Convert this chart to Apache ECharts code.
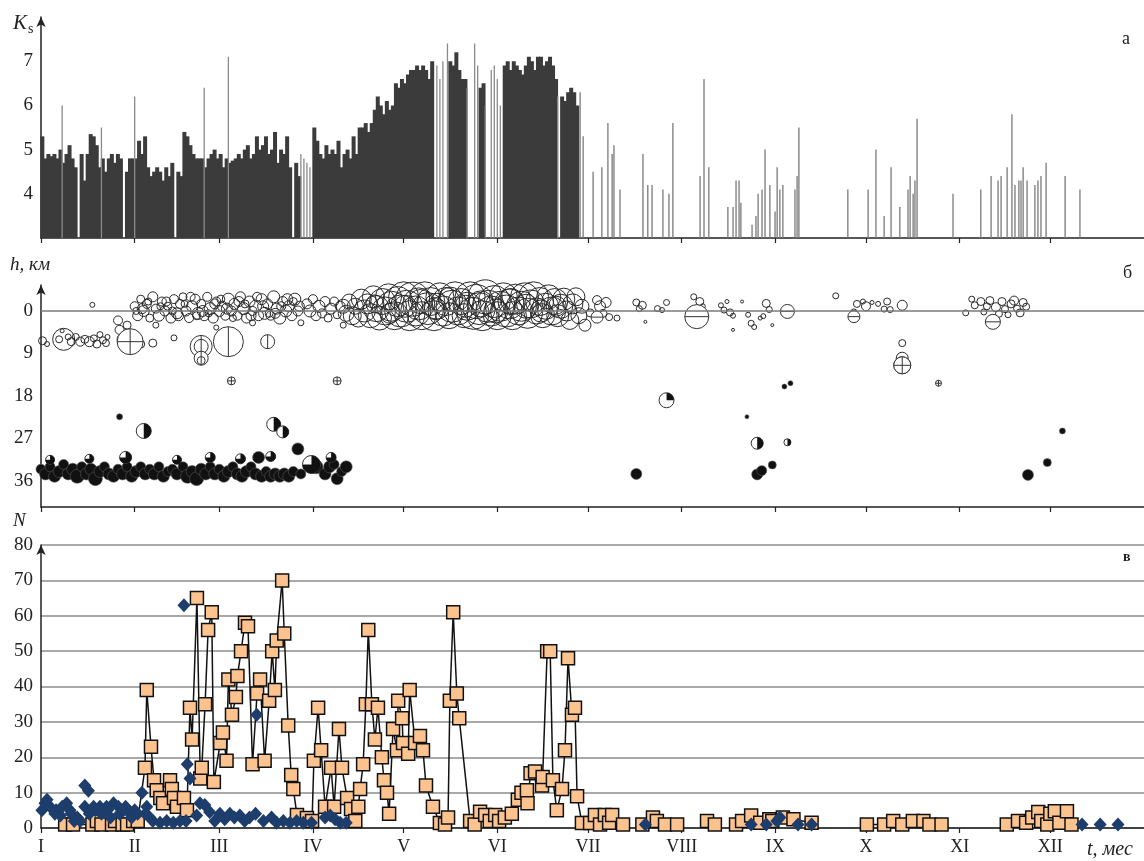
<!DOCTYPE html>
<html>
<head>
<meta charset="utf-8">
<script src="https://cdn.jsdelivr.net/npm/echarts@6/dist/echarts.min.js"></script>
<style>
  html, body { margin: 0; padding: 0; background: #fff; }
  #chart { width: 1144px; height: 861px; }
</style>
</head>
<body>
<div id="chart"></div>
<script>
// months: day of year where each month starts
var monthStarts = [0, 31, 59, 90, 120, 151, 181, 212, 243, 273, 304, 334];
var monthLabels = ['I', 'II', 'III', 'IV', 'V', 'VI', 'VII', 'VIII', 'IX', 'X', 'XI', 'XII'];

// panel a: Ks, dense part (day, Ks)
var ksDense = [[0,5.3],[1,4.8],[2,4.9],[3,4.85],[4,4.9],[5,4.8],[6,5.0],[7,4.7],[8,4.9],[9,5.1],[10,4.8],[11,4.6],[13,4.9],[14,4.3],[15,4.9],[16,5.35],[17,5.3],[18,5.1],[19,4.6],[20,4.8],[21,4.5],[22,4.8],[23,4.9],[24,4.7],[25,4.9],[26,4.8],[28,4.5],[29,4.8],[30,4.8],[31,4.8],[32,5.2],[33,4.9],[34,5.3],[35,4.6],[36,4.4],[37,4.5],[38,4.6],[39,4.5],[40,4.3],[41,4.6],[42,4.4],[43,4.7],[45,4.5],[46,4.4],[47,5.4],[48,5.3],[49,5.1],[50,4.9],[51,4.8],[52,4.8],[53,4.8],[54,4.6],[55,4.8],[56,4.9],[57,5.0],[58,4.8],[59,4.9],[60,4.6],[61,4.8],[62,4.7],[63,4.75],[64,4.8],[65,4.9],[66,4.8],[67,5.0],[68,5.1],[69,4.8],[70,4.9],[71,5.3],[72,5.0],[73,5.1],[74,5.3],[75,4.9],[76,5.0],[77,5.4],[78,4.7],[79,5.0],[80,4.9],[81,5.3],[82,4.6],[84,4.7],[85,4.4],[90,5.5],[91,5.2],[92,4.9],[93,4.8],[94,5.1],[95,4.9],[96,5.0],[97,4.9],[98,5.2],[99,4.6],[100,4.9],[101,5.0],[102,4.8],[103,5.3],[104,4.9],[105,5.5],[106,5.5],[107,5.6],[108,5.4],[109,5.6],[110,5.9],[111,6.2],[112,6.0],[113,5.8],[114,6.1],[115,5.9],[116,6.0],[117,6.5],[118,6.4],[119,6.6],[120,6.5],[121,6.7],[122,6.8],[123,6.8],[124,6.9],[125,6.8],[126,6.9],[127,6.8],[128,6.6],[129,7.0],[135,7.0],[136,6.9],[137,7.2],[138,6.8],[139,6.6],[140,6.6],[145,6.4],[146,6.5],[153,6.9],[154,7.0],[155,6.8],[156,7.0],[157,6.9],[158,6.8],[159,6.7],[160,6.9],[161,7.1],[162,7.0],[163,6.8],[164,7.1],[165,7.1],[166,6.9],[167,7.0],[168,7.1],[169,6.9],[170,6.6],[172,6.2],[173,6.1],[174,6.3],[175,6.4],[176,6.3],[177,6.0]];
// single strong events drawn as thin lines
var ksSpikes = [[7,6.0],[20,5.5],[31,6.2],[54,6.4],[62,7.1],[86,4.9],[87,4.8],[88,4.7],[89,4.6],[131,6.9],[132,6.6],[133,7.0],[134.5,7.4],[141,6.4],[143.5,7.4],[144.5,6.9],[147,6.0],[149,6.8],[150,6.9],[151,6.6],[152,6.0],[171,6.2]];
var ksSparse = [[178.4,6.3],[179.4,5.3],[182.7,4.5],[185.6,4.6],[187.6,5.6],[189,4.9],[189.6,5.1],[191.6,4.1],[199.2,4.9],[200.8,4.2],[202.2,4.2],[205.8,4.1],[207.8,4.0],[209.1,5.6],[218.1,4.4],[219.4,6.6],[221,4.6],[227.3,3.7],[229,3.7],[230,4.3],[231,4.3],[231.6,3.8],[235.3,3.3],[236.6,3.5],[237.3,4.0],[238.6,4.1],[239.6,5.0],[241.2,4.2],[242.9,3.6],[243.6,4.6],[244.5,4.1],[245.5,4.2],[249.5,4.1],[250.2,4.4],[250.8,5.5],[267,4.1],[273.7,4.1],[276.3,5.0],[279,3.5],[281.3,4.6],[284.2,3.7],[286.9,4.1],[287.6,4.4],[288.6,4.0],[289.2,4.3],[289.9,5.7],[301.8,4.0],[311,4.1],[314.4,4.4],[316.7,4.3],[317.7,4.4],[319.7,4.6],[321.3,5.8],[322.3,4.2],[323.6,4.3],[324.3,4.3],[325,4.6],[326.3,4.3],[328.9,4.2],[329.9,4.3],[330.9,4.4],[332.6,4.7],[338.9,4.4],[343.8,4.1]];

// panel b: hypocentres (day, depth km, diameter px)
var shallowQuakes = [[0.5,6.3,8],[2,7,5],[6,6,7],[7,4.2,4],[7.5,6,22],[9,5.5,6],[10,6.5,8],[11.5,5.5,7],[13,6.5,9],[14.5,6,8],[16,6.5,10],[17.5,5.8,7],[18.5,7,8],[19.5,5,6],[20.5,6.2,7],[21.5,6.8,7],[22,5.5,5],[17,-1.3,5],
  [25.5,2,9],[26,4,9],[27,6,11],[28,5,8],[28.5,3,8],[31,6.5,10],[33,7,8],[37,6.8,8],[44,5.7,6],
  [31,-1,9],[32,1,10],[33,-2.5,8],[34,0,11],[35,-1.5,9],[36,1.5,8],[37,-3,10],[38,-0.5,9],[39,1,11],[40,-2,9],[41,0,10],[42,-1,8],[43,1.5,10],[44,-2.5,9],[45,0.5,11],[46,-1.5,9],[47,-3,8],[48,0,10],[49,1.5,9],[50,-1,11],[51,-2.5,10],[52,0.5,12],[53,-1.5,9],[54,1,10],[55,-3,9],[56,-0.5,12],[57,1.5,10],[58,-2,9],[59,0,11],[60,-1,10],[61,1,9],[62,-2.5,12],[63,0,10],[64,-1.5,11],[65,1,9],[66,-3,10],[67,-0.5,12],[68,1.5,10],[69,-2,11],[70,0,9],[71,-1,12],[72,1,10],[73,-2.5,11],[74,0.5,12],[75,-1.5,10],[76,1,9],[77,-3,12],[78,-0.5,11],[79,1.5,12],[80,-2,10],[81,0,12],[82,-1,11],[83,1,10],[84,-2.5,12],[85,0,10],[86,2.5,6],
  [31.5,0,7],[35.5,-2,7],[39.5,-1,7],[43.5,0,8],[47.5,-1.5,7],[51.5,1,8],[55.5,0.5,7],[59.5,-2.5,8],[63.5,1.5,7],[67.5,-1.5,8],[71.5,-3,9],[75.5,0.5,8],[79.5,-1,9],[83.5,-2,8],[38,3,6],[58,3.5,5],[70,2.5,6],
  [33.5,-0.5,10],[41.5,-2,9],[45.5,1,10],[49.5,-3,9],[53.5,0,11],[57.5,-1.5,10],[61.5,-0.5,11],[65.5,-2,10],[69.5,1,10],[73.5,-1,11],[77.5,0.5,10],[81.5,-2.5,11],[85.5,-1,10],
  [88,-1.5,10],[89,0,12],[90,-2.5,9],[91,1,10],[92,-1,12],[93,0.5,9],[94,-2,10],[95,1.5,8],[96,-0.5,11],[97,-2,9],[98,0.8,8],[99,-1,10],[100,3,6],
  [100,-1,14],[101,0.5,16],[102,-2,15],[103,1,18],[104,-1,16],[105,1.5,18],[106,-2.5,20],[107,0,22],[108,-1.5,20],[109,1,24],[110,-3,22],[111,-0.5,26],[112,1.5,24],[113,-2,26],[114,0,28],[115,-3,26],[116,-1,30],[117,1,28],[118,-2,30],[119,0,32],[120,-3,30],[121,-1,32],[122,1,30],[123,-2.5,34],[124,0,30],[125,-1.5,32],[126,1,28],[127,-3,30],[128,-0.5,32],[129,-2,28],[130,1,30],[131,-1,26],[132,-3,28],[133,0,30],[134,-2,28],[135,1,26],[136,-1,32],[137,-3,30],[138,0,28],[139,-2,26],[140,1,24],[141,-1,28],[142,-3,30],[143,0.5,32],[144,-2,34],[145,-0.5,32],[146,1,30],[147,-3,34],[148,-1,32],[149,0,30],[150,-2,32],[151,1,28],[152,-1,30],[153,-3,28],[154,0,32],[155,-1.5,30],[156,1,28],[157,-2.5,30],[158,0,28],[159,-1,30],[160,-3,28],[161,0.5,30],[162,-1.5,28],[163,-3,30],[164,0,26],[165,-2,28],[166,1,24],[167,-1,26],[168,-3,24],[169,0,28],[170,-2,26],[171,1,22],[172,-1,24],[173,-2.5,22],[174,0,20],[175,2,18],[176,-1.5,20],[177,-3,18],[178,1,16],[179,-1,14],[180,3,12],
  [110.5,-1.5,18],[115.5,0.5,20],[120.5,-1,22],[125.5,-2,24],[130.5,-0.5,22],[135.5,-2.5,24],[140.5,-1,22],[145.5,-1.5,26],[150.5,0,24],[155.5,-2,26],[160.5,-1,24],[165.5,0,22],[170.5,-1,20],
  [181.7,0.4,8],[184,-2.3,9],[185,-1,11],[186,0.5,8],[187,-1.8,10],[188,1.3,7],[190.6,1.5,6],[197,-1.8,7],[198,-0.5,6],[199,-1.2,8],[200,2.3,3],[204,-0.5,6],[205.5,-0.2,5],[207,-1.8,6],[216,-3,6],[218,-2,8],[219,-1,5],
  [225,-1.2,5],[226,-0.2,6],[227,-2,4],[228,0.3,7],[229,1,5],[229,4,3],[232,-2,3],[234,0.8,5],[235,2.6,6],[236,3.4,5],[238,1.5,4],[239,1.1,5],[240,-1.6,8],[241,-0.3,6],[242,3,3],
  [263,-3.2,6],[269,0.2,6],[270,-1.5,7],[272,-2,5],[273,-1,9],[275,-1.8,4],[277,-1.5,5],[279,-0.4,6],[280,-2,7],[281,-0.3,6],[285,-1.2,10],[285,6.8,7],[285,10,12],[285,11.5,17],[285,11.5,9],
  [306,0.4,6],[308,-2.5,6],[309,-1.2,7],[311,-2,8],[312,0.2,6],[313,-1,7],[314,-2.2,8],[316,-0.8,9],[317,0.6,7],[318,-2,8],[319,-0.4,7],[320,0.8,6],[321,-1.5,8],[322,-2.2,9],[323,-0.5,7],[324,0.4,8],[325,-1.8,8],[326,-0.9,7]];
var deepQuakes = [[0,33.5,10],[1.5,34.5,12],[3,33,10],[4.5,35,12],[6,34,12],[7.5,32.5,10],[9,34.5,12],[10.5,33.5,12],[12,35,14],[13.5,33,10],[15,34.5,12],[16.5,33.5,12],[18,35.5,14],[19.5,34,12],[21,33,10],[22.5,34.5,12],[24,35,12],[25.5,33.5,10],[27,34.5,12],[28.5,33,10],[30,35,12],[31.5,34,12],[33,33,10],[34.5,34.5,12],[36,33.5,10],[37.5,34.5,12],[39,33,10],[40.5,35,12],[42,34,10],[43.5,33.5,10],[45,34.5,12],[47,33,10],[48.5,35,14],[50,34,12],[51.5,35.5,14],[53,33.5,12],[54.5,34.5,12],[56,33,10],[57.5,34.5,12],[59,33.5,10],[60.5,35,12],[62,34,12],[63.5,33,10],[65,34.5,12],[66.5,35,12],[68,34,12],[69.5,33,10],[71,34.5,12],[72,31,12],[73,35,12],[74.5,34,10],[76,35,12],[77.5,34.5,12],[79,35,12],[80.5,34.5,12],[82,35,12],[83.5,34,10],[85,29.2,12],[86,34.5,10],[91,33,14],[94,34.5,12],[95.5,33,12],[97,32.5,10],[98,35.5,12],[99.5,34,10],[101,33,12],
  [26,22.4,6],[197,34.5,11],[237,34.6,11],[238.5,33.8,10],[242,32.6,8],[233.6,22.4,4],[246,16,5],[248,15.3,5],[326.6,34.7,11],[333,32.1,8],[338,25.4,6]];
// special symbols: day, depth, diameter, kind (0 focal sphere, 1 cross, 2 vertical bar, 3 horizontal bar), black sector from/to (deg)
var markedQuakes = [[34,25.4,15,0,-90,90],[77,24,14,0,-90,90],[80,25.6,12,0,-90,90],[89.5,32.5,18,0,-90,180],[207,18.9,15,0,-90,0],[237,28,12,0,-90,90],[247,27.8,7,0,-90,90],
  [3,31.5,9,0,-90,180],[16,31.3,9,0,-90,180],[28,31,12,0,-90,180],[45,31.5,9,0,-90,180],[56,31,10,0,-90,180],[66,31.3,10,0,-90,180],[76,30.8,10,0,-90,180],[96,31,10,0,-90,180],
  [63,14.8,8,1,0,0],[98,14.8,8,1,0,0],[297,15.3,6,1,0,0],[29.5,6.5,26,1,0,0],[53,7.5,22,2,0,0],[53,7.5,14,2,0,0],[53,10,14,2,0,0],[53,10.5,8,2,0,0],[62,6.5,30,2,0,0],[75,6.5,14,2,0,0],[285,11.5,17,1,0,0],
  [217,1.2,24,3,0,0],[247,0.1,14,3,0,0],[184,1.3,12,3,0,0],[315,2.3,15,3,0,0],[269,1.2,12,3,0,0]];

// panel v: number of events per day ('-' = no observations, the line is broken)
var countShallow = [[8,1],[10.6,1],[17,1],[18.5,2],[20,1],[23.5,1],[24.5,2],[27,1],[28.5,1],[30.5,2],[32,2],[34.4,17],[35,39],[36.4,23],[37.4,13.5],[38.3,10.7],[39.5,8.5],[40.4,7],[42.7,13.5],[43.3,11],[44,8.5],[45,6],[47.3,8.5],[48.3,5],[49.3,34],[50,25],[51.6,65],[52.7,14],[53.2,17],[54.3,35],[55.3,56],[56.5,61],[57.2,13],[59.3,24],[60.2,27],[61.4,19],[62,42],[63.2,32],[64.5,37],[65,43],[66.2,50],[67.5,58],[68.5,57],[70,18],[71.5,38],[72.5,42],[74,19],[75.5,36],[76.5,50],[77.4,39],[78,53],[79.8,70],[80.5,55],[81.8,29],[82.8,15],[83.5,11],[84.7,3.7],[88,2.8],[89.7,2],[90.3,19],[91.7,34],[92.7,22],[94,6],[96,17],[97,6],[98.6,28],[99.6,17],[101.3,8.5],[102.6,5.4],[104,2],[105,6],[105.6,11],[106.6,18],[107.5,35],[108.3,56],[109.5,35],[110.5,25],[111.5,34],[112.8,20],[113.5,13.5],[114.5,10],[115.2,4],[116.5,28],[117.8,22],[118.2,36],[119.5,31],[119.8,24],[121.5,21],[122,39],[123.8,24],[125.4,26],[126.4,22],[127.4,12],[129.7,6],[132,1.4],[133.7,1],[134.7,3],[135.3,36],[136.4,61],[137.6,38],[138.4,31],[142,2],[143.5,1],[145.3,4.6],[147,3.7],[148.5,2],[150.3,3.7],[151.6,2],[153.5,3],[155.8,4],[157.8,8],[159,10],[160.8,10.7],[161,7],[162,15.5],[163.5,16],[165.8,12],[166,14.4],[167.5,50],[168.5,50],[169.4,13.5],[170.7,5],[172.4,11],[173.4,22],[174.4,48],[175.7,32],[176.7,34],[177.4,9],[179,1.4],[181.7,1.4],[183.3,3.7],[185,1],[186.6,3.7],[188,1.5],[189,3.7],[192.6,1],[195,'-'],[199,1],[202.5,3],[203.8,2],[206.5,1],[210.5,1],[215,'-'],[220.4,2],[223,1],[226,'-'],[230,1],[232,2],[235,3.5],[238,1.5],[241,2.5],[242,2],[245.5,3],[249,2.5],[255,1.5],[265,'-'],[273.3,1],[279,1],[282,2],[285,1],[288.5,2],[292,2],[294,1],[298,1],[310,'-'],[319.6,1],[323.3,2],[326,1.5],[328,3],[330,4.5],[331,2],[333,1],[334,4],[335.5,4.7],[337,1.5],[339.5,4.7],[341,1]];
var countDeep = [[0.3,5],[1.3,7],[2,8],[3,6],[4.6,4],[5,5],[6.4,3.5],[7,6],[8.5,7],[9.6,5],[10,4],[11,2],[12,3],[13,2],[14.5,12],[15.7,10.5],[14.5,6],[16,4],[17.4,6],[18,5],[19.5,6],[20,4],[21.7,6],[22,5],[23,3],[24,7],[25.6,6],[26,4],[27.3,5],[28,6],[29.5,4],[30,3],[31,5],[32,4],[33.4,10],[34.5,4],[35,6],[36,3],[37,2],[39.4,1.5],[41.6,2],[43.8,1.5],[46,2],[47.3,63],[48.4,18],[49.3,14],[48,2],[51.5,3.5],[52.6,7],[54.2,6.5],[55.8,4.5],[57.5,2],[59.2,4],[60.8,2.5],[62.5,4],[64,3],[65.8,3.5],[67.4,2],[69,3],[71,4],[71.4,32],[73.6,2],[76.3,3],[78,1.5],[80.2,2],[82.4,1.5],[84.6,2],[86.8,1.5],[89.5,1.5],[94,3],[95.7,3.5],[97.3,2.5],[99,1.5],[101,1.5],[200,1],[235,1],[240,1],[243.5,2],[244.5,3],[250.5,1],[255,1],[344.5,1],[350.5,1],[356.4,1]];

var SERIF = '"Liberation Serif", "DejaVu Serif", serif';
var INK = '#222';

var romanOf = {};
monthStarts.forEach(function (d, i) { romanOf[d] = monthLabels[i]; });

function dayAxis(gridIndex, withLabels) {
    return {
        type: 'value', gridIndex: gridIndex, min: 0, max: 365,
        axisLine: { show: true, onZero: false, lineStyle: { color: INK, width: 1.5 } },
        axisTick: { show: true, customValues: monthStarts, length: 5, lineStyle: { color: INK, width: 1.2 } },
        axisLabel: withLabels ? {
            show: true, customValues: monthStarts, margin: 10,
            fontFamily: SERIF, fontSize: 18, color: INK,
            formatter: function (v) { return romanOf[v] || ''; }
        } : { show: false },
        splitLine: { show: false }
    };
}

function arrowLine() {
    return { show: true, onZero: false, symbol: ['none', 'arrow'], symbolSize: [7, 10], lineStyle: { color: INK, width: 1.5 } };
}

function renderMarked(params, api) {
    var c = api.coord([api.value(0), api.value(1)]);
    var r = api.value(2) / 2;
    var kind = api.value(3);
    var kids = [{ type: 'circle', shape: { cx: c[0], cy: c[1], r: r }, style: { fill: '#fff', stroke: '#333', lineWidth: 1 } }];
    if (kind === 0) {
        kids.push({ type: 'sector', shape: { cx: c[0], cy: c[1], r0: 0, r: r,
            startAngle: api.value(4) * Math.PI / 180, endAngle: api.value(5) * Math.PI / 180 },
            style: { fill: '#111' } });
    }
    if (kind === 1 || kind === 2) {
        kids.push({ type: 'line', shape: { x1: c[0], y1: c[1] - r, x2: c[0], y2: c[1] + r }, style: { stroke: '#333', lineWidth: 1 } });
    }
    if (kind === 1 || kind === 3) {
        kids.push({ type: 'line', shape: { x1: c[0] - r, y1: c[1], x2: c[0] + r, y2: c[1] }, style: { stroke: '#333', lineWidth: 1 } });
    }
    return { type: 'group', children: kids };
}

var chart = echarts.init(document.getElementById('chart'));
var option = {
    backgroundColor: '#fff',
    animation: false,
    grid: [
        { left: 41, right: 0, top: 17, height: 221 },
        { left: 41, right: 0, top: 285, height: 222 },
        { left: 41, right: 0, top: 545, height: 283 }
    ],
    xAxis: [dayAxis(0, false), dayAxis(1, false), dayAxis(2, true)],
    yAxis: [
        {
            type: 'value', gridIndex: 0, min: 3, max: 8, interval: 1, startValue: 3,
            axisLine: arrowLine(), axisTick: { show: false }, splitLine: { show: false },
            axisLabel: { fontFamily: SERIF, fontSize: 19, color: INK, margin: 8,
                formatter: function (v) { return (v === 3 || v === 8) ? '' : v; } }
        },
        {
            type: 'value', gridIndex: 1, inverse: true, min: -5.5, max: 41.5,
            axisLine: arrowLine(),
            axisTick: { show: false }, splitLine: { show: false },
            axisLabel: { customValues: [0, 9, 18, 27, 36], fontFamily: SERIF, fontSize: 19, color: INK, margin: 8 }
        },
        {
            type: 'value', gridIndex: 2, min: 0, max: 80, interval: 10,
            axisLine: arrowLine(), axisTick: { show: false },
            splitLine: { show: true, lineStyle: { color: '#8c8c8c', width: 1.5 } },
            axisLabel: { fontFamily: SERIF, fontSize: 19, color: INK, margin: 8 }
        }
    ],
    graphic: [
        { type: 'text', left: 13, top: 13, style: { text: 'K', font: 'italic 21px ' + SERIF, fill: INK } },
        { type: 'text', left: 28, top: 22, style: { text: 's', font: '14px ' + SERIF, fill: INK } },
        { type: 'text', left: 10, top: 255, style: { text: 'h, км', font: 'italic 19px ' + SERIF, fill: INK } },
        { type: 'text', left: 13, top: 511, style: { text: 'N', font: 'italic 19px ' + SERIF, fill: INK } },
        { type: 'text', left: 1122, top: 30, style: { text: 'а', font: '18px ' + SERIF, fill: INK } },
        { type: 'text', left: 1123, top: 264, style: { text: 'б', font: '18px ' + SERIF, fill: INK } },
        { type: 'text', left: 1123, top: 550, style: { text: 'в', font: 'bold 14px ' + SERIF, fill: INK } },
        { type: 'text', left: 1087, top: 840, style: { text: 't, мес', font: 'italic 20px ' + SERIF, fill: INK } }
    ],
    series: [
        { type: 'bar', xAxisIndex: 0, yAxisIndex: 0, data: ksDense, barWidth: 4, barGap: '-100%',
          itemStyle: { color: '#3b3b3b' }, clip: true },
        { type: 'bar', xAxisIndex: 0, yAxisIndex: 0, data: ksSpikes, barWidth: 1.3, barGap: '-100%',
          itemStyle: { color: '#8a8a8a' }, clip: true },
        { type: 'bar', xAxisIndex: 0, yAxisIndex: 0, data: ksSparse, barWidth: 1.3, barGap: '-100%',
          itemStyle: { color: '#7a7a7a' }, clip: true },
        {
            type: 'scatter', xAxisIndex: 1, yAxisIndex: 1, data: shallowQuakes,
            symbolSize: function (d) { return d[2]; },
            itemStyle: { color: 'rgba(255,255,255,0)', borderColor: '#2a2a2a', borderWidth: 1, opacity: 1 },
            markLine: { silent: true, symbol: 'none', label: { show: false },
                lineStyle: { color: '#7a7a7a', width: 1.5, type: 'solid' }, data: [{ yAxis: 0 }] }
        },
        {
            type: 'scatter', xAxisIndex: 1, yAxisIndex: 1, data: deepQuakes,
            symbolSize: function (d) { return d[2]; },
            itemStyle: { color: '#111', borderColor: '#555', borderWidth: 0.6, opacity: 1 }
        },
        { type: 'custom', xAxisIndex: 1, yAxisIndex: 1, data: markedQuakes, renderItem: renderMarked, z: 3 },
        {
            type: 'line', xAxisIndex: 2, yAxisIndex: 2, data: countShallow,
            symbol: 'rect', symbolSize: 13, showAllSymbol: true, connectNulls: false,
            lineStyle: { color: '#111', width: 1.5 },
            itemStyle: { color: '#fcc38e', borderColor: '#111', borderWidth: 1.5 }
        },
        {
            type: 'scatter', xAxisIndex: 2, yAxisIndex: 2, data: countDeep,
            symbol: 'diamond', symbolSize: [13, 14], z: 4,
            itemStyle: { color: '#1d3d6d', opacity: 1 }
        }
    ]
};
chart.setOption(option);
</script>
</body>
</html>
